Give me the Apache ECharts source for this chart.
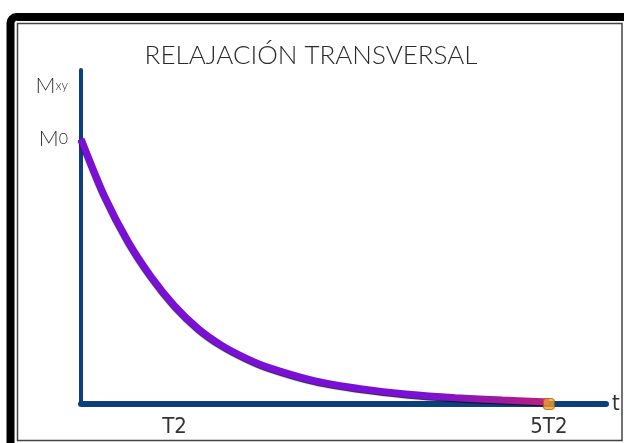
<!DOCTYPE html>
<html>
<head>
<meta charset="utf-8">
<script src="https://cdn.jsdelivr.net/npm/echarts@6/dist/echarts.min.js"></script>
<style>html,body{margin:0;padding:0;background:#fff}#c{width:624px;height:443px}</style>
</head>
<body>
<div id="c"></div>
<script>
// time in units of T2
var times = [0, 0.25, 0.5, 0.75, 1.0, 1.25, 1.5, 1.75, 2.0, 2.5, 3.0, 3.5, 4.0, 4.5, 5.0];
// Mxy relative to M0
var mxy = [1.00, 0.785, 0.615, 0.48, 0.37, 0.285, 0.222, 0.175, 0.138, 0.087, 0.057, 0.037, 0.024, 0.015, 0.008];
var markerPoint = [[5, 0]];
var xTickLabels = {1: 'T2', 5: '5T2'};
var yTickLabels = {'1': 'M0', '1.2': 'Mxy'};
var titleText = 'RELAJACIÓN TRANSVERSAL';
var xName = 't';

var curve = times.map(function (t, i) { return [t, mxy[i]]; });
var chart = echarts.init(document.getElementById('c'));
var axisColor = '#0d3f7c';
var narrow = '"DejaVu Sans Condensed", "Liberation Sans", sans-serif';
chart.setOption({
  animation: false,
  backgroundColor: '#fff',
  title: {
    text: titleText, left: 306, top: 38, textAlign: 'center',
    textStyle: {fontFamily: 'Lato', fontWeight: 300, fontSize: 26, color: '#2a2a2a'}
  },
  grid: {left: 81, right: 18, top: 70, bottom: 39, containLabel: false},
  xAxis: {
    type: 'value', min: 0, max: 5.61, interval: 1,
    name: xName, nameLocation: 'end', nameGap: 6,
    nameTextStyle: {fontFamily: narrow, fontSize: 22, color: '#333', padding: [12, 0, 0, 0]},
    axisLine: {lineStyle: {color: axisColor, width: 6}},
    axisTick: {show: false}, splitLine: {show: false},
    axisLabel: {
      margin: 12, showMaxLabel: false,
      fontFamily: narrow, fontSize: 22, color: '#333',
      formatter: function (v) { return xTickLabels[Math.round(v)] && Math.abs(v - Math.round(v)) < 1e-6 ? xTickLabels[Math.round(v)] : ''; }
    }
  },
  yAxis: {
    type: 'value', min: 0, max: 1.26, interval: 0.2,
    axisLine: {lineStyle: {color: axisColor, width: 4}},
    axisTick: {show: false}, splitLine: {show: false},
    axisLabel: {
      margin: 13, showMaxLabel: false,
      formatter: function (v) {
        var k = (Math.round(v * 10) / 10).toString();
        if (yTickLabels[k] === 'M0') return '{m|M}{s|0}';
        if (yTickLabels[k] === 'Mxy') return '{m|M}{x|xy}';
        return '';
      },
      rich: {
        m: {fontFamily: 'Lato', fontWeight: 300, fontSize: 22, color: '#333'},
        s: {fontFamily: 'Lato', fontWeight: 300, fontSize: 16, color: '#333'},
        x: {fontFamily: 'Lato', fontWeight: 300, fontSize: 13, color: '#333'}
      }
    }
  },
  series: [
    {
      type: 'line', data: curve, smooth: 0.25, showSymbol: false, z: 3,
      lineStyle: {
        width: 7,
        color: new echarts.graphic.LinearGradient(0, 0, 1, 0, [
          {offset: 0, color: '#7a10d8'},
          {offset: 0.72, color: '#7a10d8'},
          {offset: 0.88, color: '#9a1aa0'},
          {offset: 1, color: '#c0207a'}
        ]),
        shadowColor: 'rgba(20,0,40,0.9)', shadowBlur: 1, shadowOffsetY: 1
      }
    },
    {
      type: 'scatter', data: markerPoint, symbol: 'roundRect', symbolSize: [11, 11], z: 4,
      itemStyle: {color: '#f0a030', borderColor: '#a85c00', borderWidth: 1}
    }
  ],
  graphic: [
    {type: 'rect', shape: {x: 10.5, y: 17, width: 700, height: 500, r: 6}, style: {fill: null, stroke: '#000', lineWidth: 8}, z: 10},
    {type: 'rect', shape: {x: 17.5, y: 23.5, width: 604.5, height: 417}, style: {fill: null, stroke: '#444', lineWidth: 1.5}, z: 10}
  ]
});
</script>
</body>
</html>
